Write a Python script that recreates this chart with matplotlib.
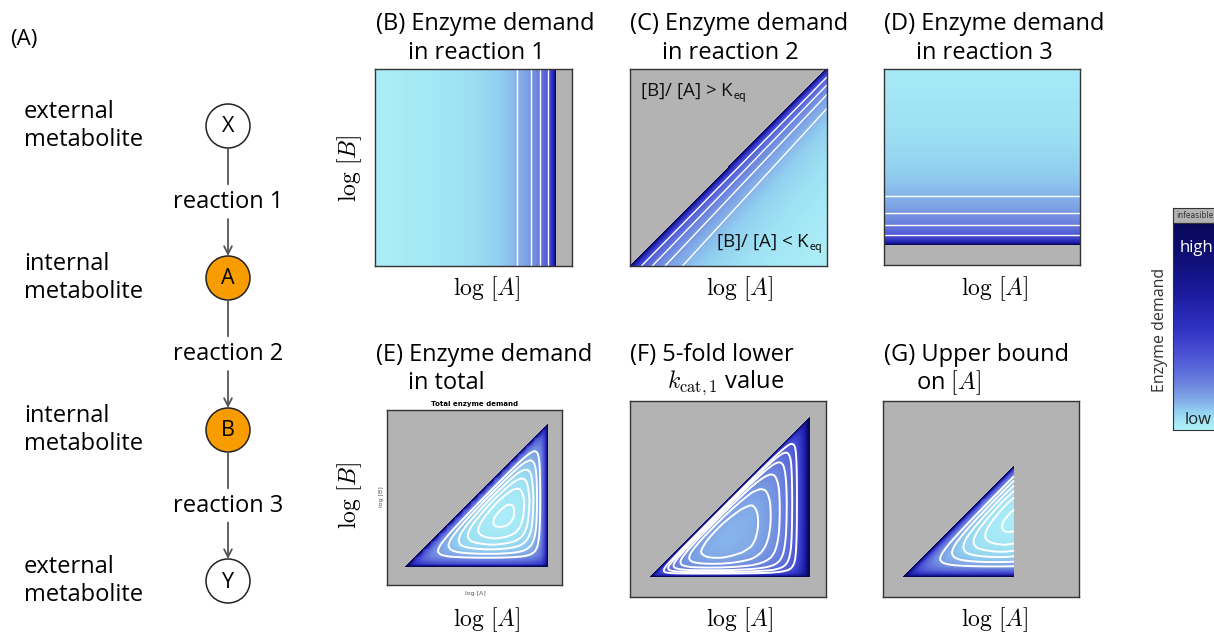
import numpy as np
import matplotlib
matplotlib.use('Agg')
import matplotlib.pyplot as plt
from matplotlib.colors import LinearSegmentedColormap, LogNorm, Normalize
from matplotlib.cm import ScalarMappable
from matplotlib.patches import Circle

plt.rcParams['font.family'] = ['Open Sans', 'DejaVu Sans']
plt.rcParams['mathtext.fontset'] = 'cm'

# ---- data ----
# enzyme demand of one reaction vs. distance (log-conc units) from its equilibrium line
profile_dist = [0.0, 0.0025, 0.005, 0.0075, 0.01, 0.015, 0.02, 0.03, 0.04, 0.05, 0.06,
                0.07, 0.08, 0.10, 0.12, 0.14, 0.16, 0.18, 0.20, 0.23, 0.26, 0.30,
                0.35, 0.40, 0.45, 0.50, 0.60, 0.70, 0.80, 0.92, 1.5]
profile_demand = [150, 69, 35, 23.7, 18, 12.3, 9.5, 6.66, 5.24, 4.39, 3.82,
                  3.42, 3.11, 2.68, 2.40, 2.19, 2.03, 1.91, 1.81, 1.70, 1.61, 1.51,
                  1.43, 1.36, 1.30, 1.26, 1.19, 1.14, 1.11, 1.07, 1.01]

log_a_max = 0.92      # reaction 1 at equilibrium
log_b_min = 0.10      # reaction 3 at equilibrium
rxn3_scale = 1.27
rxn2_scale_a = [0.0, 1.0]
rxn2_scale = [1.45, 1.0]
kcat1_fold = 5        # panel F
log_a_upper = 0.67    # panel G

single_levels = [1.81, 2.3, 3.1, 5.2]
total_level_factors = [1.01, 1.06, 1.12, 1.2, 1.33, 1.55]
lower_kcat_level_factors = [1.06, 1.14, 1.25, 1.4, 1.6, 1.9]
total_norm_span = [0.95, 15]
lower_kcat_norm_span = [0.7, 11]

cmap_pos = [0, 0.02, 0.05, 0.09, 0.13, 0.18, 0.25, 0.37, 0.5, 0.65, 0.8, 1.0]
cmap_colors = ['#aef0f8', '#a9ecf7', '#9ee2f4', '#92d0f0', '#86b2ea', '#7898e2',
               '#6478dc', '#4a50d4', '#2e30c0', '#1c1ca0', '#10107c', '#080858']

nodes = ['X', 'A', 'B', 'Y']
node_kind = ['external\nmetabolite', 'internal\nmetabolite',
             'internal\nmetabolite', 'external\nmetabolite']
reactions = ['reaction 1', 'reaction 2', 'reaction 3']

# ---- build fields ----
cmap = LinearSegmentedColormap.from_list('demand', list(zip(cmap_pos, cmap_colors)))
cmap.set_bad('#b3b3b3')

g = np.linspace(0, 1, 197)
A, B = np.meshgrid(g, g)


def demand(dist):
    return np.where(dist >= 0, np.interp(dist, profile_dist, profile_demand), np.nan)


d1 = demand(log_a_max - A)
d2 = demand((A - B) / np.interp(A, rxn2_scale_a, rxn2_scale))
d3 = demand((B - log_b_min) / rxn3_scale)
total = d1 + d2 + d3
total_f = kcat1_fold * d1 + d2 + d3
total_g = np.where(A <= log_a_upper, total, np.nan)

e_min = np.nanmin(total)
f_min = np.nanmin(total_f)

W, H = 1214, 633
fig = plt.figure(figsize=(W / 100, H / 100), dpi=100)

# ---- pathway (A) ----
ax0 = fig.add_axes([0, 0, 1, 1])
ax0.set_xlim(0, W)
ax0.set_ylim(H, 0)
ax0.axis('off')
ax0.text(10, 40, '(A)', fontsize=16, va='center', ha='left')
node_y = [126, 278, 430, 581]
node_fc = ['white', '#f89c00', '#f89c00', 'white']
for name, kind, y, fc in zip(nodes, node_kind, node_y, node_fc):
    ax0.add_patch(Circle((228, y), 22, facecolor=fc, edgecolor='#222222', lw=1.1))
    ax0.text(228, y + 1, name, fontsize=15.5, ha='center', va='center')
    ax0.text(24, y, kind, fontsize=17, ha='left', va='center')
for i, r in enumerate(reactions):
    mid = (node_y[i] + node_y[i + 1]) / 2
    ax0.text(228, mid, r, fontsize=17, ha='center', va='center')
    ax0.plot([228, 228], [node_y[i] + 22, mid - 18], color='#555555', lw=1.3)
    ax0.annotate('', xy=(228, node_y[i + 1] - 22), xytext=(228, mid + 17),
                 arrowprops=dict(arrowstyle='->', color='#555555', lw=1.3,
                                 shrinkA=0, shrinkB=0, mutation_scale=14))


def panel(x0, y0, size, field, norm, levels, lw=1.0, fill_gaps=True):
    ax = fig.add_axes([x0 / W, 1 - (y0 + size) / H, size / W, size / H])
    ax.imshow(np.ma.masked_invalid(field), extent=[0, 1, 0, 1], origin='lower',
              cmap=cmap, norm=norm, interpolation='nearest', aspect='auto')
    if fill_gaps:
        cfield = np.nan_to_num(field, nan=1e4)
    else:
        cfield = np.ma.masked_invalid(field)
    ax.contour(g, g, cfield, levels=levels, colors='white', linewidths=lw)
    ax.set_xlim(0, 1)
    ax.set_ylim(0, 1)
    ax.set_xticks([])
    ax.set_yticks([])
    for s in ax.spines.values():
        s.set_color('#333333')
        s.set_linewidth(1.0)
    return ax


single_norm = LogNorm(1, 100)
tot_norm = LogNorm(e_min * total_norm_span[0], e_min * total_norm_span[1])
f_norm = LogNorm(f_min * lower_kcat_norm_span[0], f_min * lower_kcat_norm_span[1])
e_levels = [e_min * k for k in total_level_factors]
f_levels = [f_min * k for k in lower_kcat_level_factors]

panel(375, 69, 197, d1, single_norm, single_levels)
axc = panel(630, 69, 197, d2, single_norm, single_levels)
panel(884, 69, 196, d3, single_norm, single_levels)
panel(387, 410, 175, total, tot_norm, e_levels, lw=1.4)
panel(630, 401, 196, total_f, f_norm, f_levels, lw=1.4)
panel(883, 401, 196, total_g, tot_norm, e_levels, lw=1.4, fill_gaps=False)

axc.text(0.05, 0.86, r'[B]/ [A] > K$_{\mathsf{eq}}$', transform=axc.transAxes,
         fontsize=13.5, color='#111111')
axc.text(0.98, 0.09, r'[B]/ [A] < K$_{\mathsf{eq}}$', transform=axc.transAxes,
         fontsize=13.5, color='#111111', ha='right')


def ftext(x, y, s, **kw):
    fig.text(x / W, 1 - y / H, s, **kw)


titles = [(376, 24, '(B) Enzyme demand', 408, 53, 'in reaction 1'),
          (630, 24, '(C) Enzyme demand', 662, 53, 'in reaction 2'),
          (884, 24, '(D) Enzyme demand', 916, 53, 'in reaction 3'),
          (376, 355, '(E) Enzyme demand', 408, 383, 'in total'),
          (630, 355, '(F) 5-fold lower', 667, 383, r'$k_{\mathrm{cat},1}$ value'),
          (884, 355, '(G) Upper bound', 916, 383, r'on $[A]$')]
for xa, ya, sa, xb, yb, sb in titles:
    ftext(xa, ya, sa, fontsize=17, va='center', ha='left')
    ftext(xb, yb, sb, fontsize=17, va='center', ha='left')

for xc in [487, 740, 995]:
    ftext(xc, 289, r'$\log\,[A]$', fontsize=17, ha='center', va='center')
    ftext(xc, 620, r'$\log\,[A]$', fontsize=17, ha='center', va='center')
for yc in [168, 495]:
    ftext(350, yc, r'$\log\,[B]$', fontsize=17, ha='center', va='center', rotation=90)

# small labels of the embedded total-demand plot
ftext(475, 404, 'Total enzyme demand', fontsize=5, fontweight='bold',
      ha='center', va='center', family='DejaVu Sans')
ftext(475, 593, 'log [A]', fontsize=4.5, color='#555555', ha='center', va='center',
      family='DejaVu Sans')
ftext(381, 497, 'log [B]', fontsize=4.5, color='#555555', ha='center', va='center',
      rotation=90, family='DejaVu Sans')

# ---- colour bar ----
gray_ax = fig.add_axes([1173 / W, 1 - 223 / H, 70 / W, 15 / H])
gray_ax.set_facecolor('#b3b3b3')
gray_ax.set_xticks([])
gray_ax.set_yticks([])
for s in gray_ax.spines.values():
    s.set_color('#333333')
gray_ax.text(0.05, 0.5, 'infeasible', fontsize=5.5, va='center', ha='left',
             transform=gray_ax.transAxes, color='#333333', family='DejaVu Sans')
cax = fig.add_axes([1173 / W, 1 - 430 / H, 70 / W, 207 / H])
cb = fig.colorbar(ScalarMappable(norm=Normalize(0, 1), cmap=cmap), cax=cax)
cb.set_ticks([])
cb.outline.set_edgecolor('#333333')
cax.text(0.1, 0.88, 'high', transform=cax.transAxes, color='white', fontsize=12,
         va='center', ha='left')
cax.text(0.16, 0.05, 'low', transform=cax.transAxes, color='#222222', fontsize=12,
         va='center', ha='left')
ftext(1160, 330, 'Enzyme demand', fontsize=11.5, rotation=90, ha='center',
      va='center', color='#333333')

fig.savefig('out.png', dpi=100)
